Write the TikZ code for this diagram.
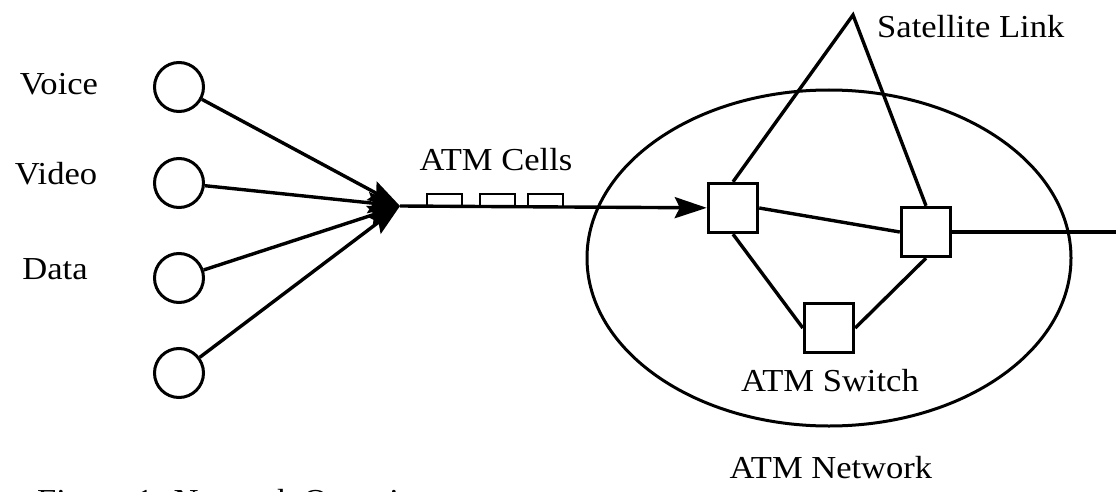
\documentclass[tikz,border=0pt]{standalone}
\usepackage{fontspec}
\setmainfont[FakeStretch=1.08]{Liberation Serif}
\usetikzlibrary{arrows.meta}
\begin{document}
\begin{tikzpicture}[x=1pt,y=-1pt,
  every node/.style={font=\fontsize{32}{37}\selectfont, inner sep=0pt},
  line/.style={line width=3.4pt},
  arr/.style={line width=3.4pt, -{Stealth[length=32pt,width=21pt,inset=5pt]}},
  src/.style={circle, draw, line width=3pt, minimum size=49pt},
  sw/.style={rectangle, draw, line width=3.4pt, minimum size=49pt},
  cell/.style={rectangle, draw, line width=2.6pt, minimum width=35pt, minimum height=13pt}
]
\useasboundingbox (0,0) rectangle (1116,492);
% sources
\node[src] (c1) at (179,87) {};
\node[src] (c2) at (179,183) {};
\node[src] (c3) at (179,278) {};
\node[src] (c4) at (179,373) {};
\node (lv) at (59,84) {Voice};
\node (lvi) at (56,174) {Video};
\node (ld) at (55,269) {Data};
\coordinate (conv) at (400,206);
\draw[arr] (c1) -- (conv);
\draw[arr] (c2) -- (conv);
\draw[arr] (c3) -- (conv);
\draw[arr] (c4) -- (conv);
% network
\draw[line width=3pt] (829,258) ellipse [x radius=242, y radius=168];
\node[sw] (s1) at (733,208) {};
\node[sw] (s2) at (926,232) {};
\node[sw] (s3) at (829,328) {};
\coordinate (apex) at (853,15);
\coordinate (exit) at (1116,232);
\draw[arr] (conv) -- (s1);
\node[cell] (k1) at (444.5,200.5) {};
\node[cell] (k2) at (497.5,200.5) {};
\node[cell] (k3) at (545.5,200.5) {};
\draw[line] (s1.north) -- (apex) -- (s2.north);
\draw[line] (s1.east) -- (s2.west);
\draw[line] (s1.south) -- (s3.west);
\draw[line] (s2.south) -- (s3.east);
\draw[line] (s2.east) -- (exit);
% labels
\node (lcells) at (496,160) {ATM Cells};
\node[anchor=west] (lsat) at (877,27) {Satellite Link};
\node (lsw) at (830,381) {ATM Switch};
\node (lnet) at (831,468) {ATM Network};
\begin{scope}
\clip (0,0) rectangle (1116,492);
\node[anchor=base west] (cap) at (37,511) {Figure 1. Network Overview};
\end{scope}
\end{tikzpicture}
\end{document}
